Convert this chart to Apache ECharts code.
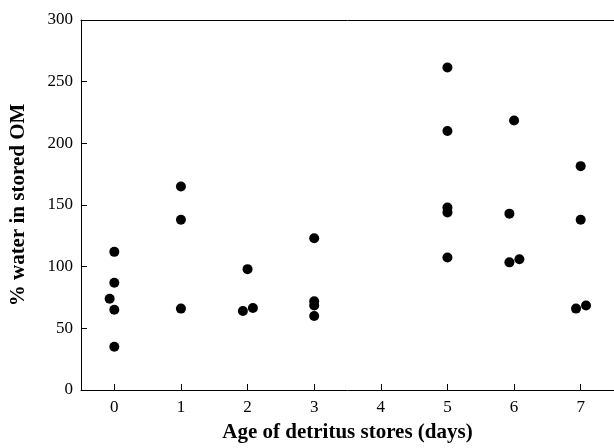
<!DOCTYPE html>
<html>
<head>
<meta charset="utf-8">
<script src="https://cdn.jsdelivr.net/npm/echarts@6/dist/echarts.min.js"></script>
<style>
html,body{margin:0;padding:0;background:#fff;}
#chart{width:614px;height:448px;}
</style>
</head>
<body>
<div id="chart"></div>
<script>
// Age (days, slightly jittered as plotted) and % water values
var ageDays = [0, 0, -0.07, 0, 0, 1, 1, 1, 2, 1.93, 2.08, 3, 3, 3, 3, 5, 5, 5, 5, 5, 6, 5.93, 5.93, 6.08, 7, 7, 6.93, 7.08];
var waterPct = [112, 87, 74, 65, 35, 165, 138, 66, 98, 64, 66.5, 123, 72, 68.5, 60, 261.5, 210, 148, 144, 107.5, 218.5, 143, 103.5, 106, 181.5, 138, 66, 68.5];
var xTicks = [0, 1, 2, 3, 4, 5, 6, 7];
var yTicks = [0, 50, 100, 150, 200, 250, 300];

var pts = ageDays.map(function (d, i) { return [d, waterPct[i]]; });
var font = 'Liberation Serif';
var chart = echarts.init(document.getElementById('chart'));
chart.setOption({
  animation: false,
  grid: { left: 80, right: 0, top: 20, bottom: 53 },
  xAxis: [{
    type: 'value', min: -0.5, max: 7.5, position: 'bottom',
    name: 'Age of detritus stores (days)', nameLocation: 'middle', nameGap: 32,
    nameTextStyle: { fontFamily: font, fontSize: 21, fontWeight: 'bold', color: '#000' },
    axisLine: { show: true, onZero: false, lineStyle: { color: '#000', width: 1 } },
    axisTick: { show: true, inside: true, length: 6, customValues: xTicks, lineStyle: { color: '#000' } },
    axisLabel: { customValues: xTicks, fontFamily: font, fontSize: 17, color: '#000', margin: 9 },
    splitLine: { show: false }
  }, {
    type: 'value', min: -0.5, max: 7.5, position: 'top',
    axisLine: { show: true, onZero: false, lineStyle: { color: '#000', width: 1 } },
    axisTick: { show: false }, axisLabel: { show: false }, splitLine: { show: false }
  }],
  yAxis: {
    type: 'value', min: 0, max: 300, interval: 50,
    name: '% water in stored OM', nameLocation: 'middle', nameGap: 52,
    nameTextStyle: { fontFamily: font, fontSize: 21, fontWeight: 'bold', color: '#000' },
    axisLine: { show: true, onZero: false, lineStyle: { color: '#000', width: 1 } },
    axisTick: { show: true, inside: true, length: 6, lineStyle: { color: '#000' } },
    axisLabel: { fontFamily: font, fontSize: 17, color: '#000', margin: 8 },
    splitLine: { show: false }
  },
  series: [{
    type: 'scatter', xAxisIndex: 0, data: pts, symbol: 'circle', symbolSize: 10,
    itemStyle: { color: '#000', opacity: 1 }
  }]
});
</script>
</body>
</html>
